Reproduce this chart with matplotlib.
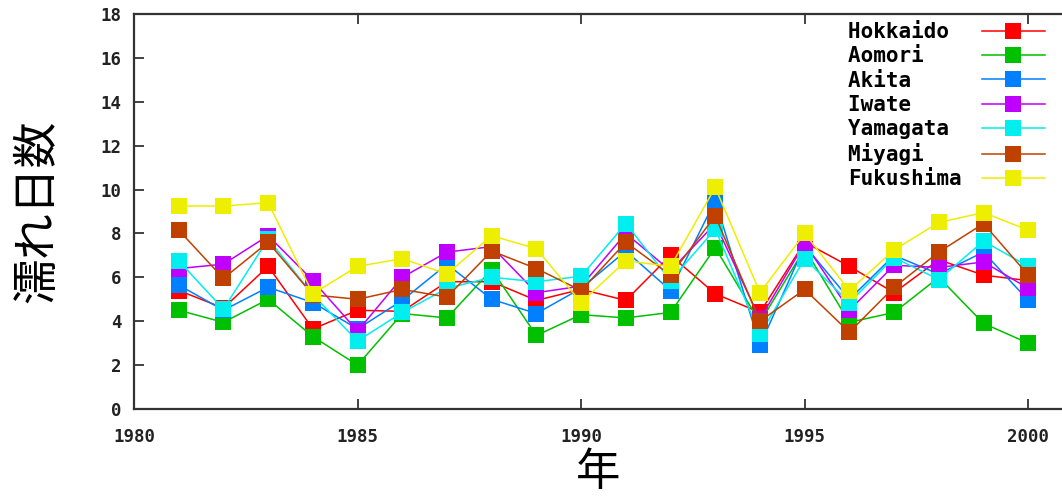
import matplotlib
matplotlib.use('Agg')
import matplotlib.pyplot as plt

years = list(range(1981, 2001))

hokkaido  = [5.4, 4.6, 6.5, 3.65, 4.5, 4.45, 5.8, 5.8, 4.95, 5.45, 4.95, 7.0, 5.25, 4.4, 7.6, 6.5, 5.3, 6.8, 6.1, 5.85]
aomori    = [4.5, 3.95, 5.0, 3.3, 2.0, 4.35, 4.15, 6.35, 3.35, 4.3, 4.15, 4.4, 7.35, 3.95, 7.3, 3.95, 4.4, 6.0, 3.9, 3.0]
akita     = [5.65, 4.5, 5.55, 4.85, 3.65, 4.95, 6.6, 5.0, 4.35, 5.5, 7.2, 5.4, 9.5, 2.9, 7.45, 5.0, 7.0, 6.15, 7.15, 4.95]
iwate     = [6.4, 6.6, 7.9, 5.85, 3.55, 6.0, 7.15, 7.4, 5.3, 5.6, 8.0, 6.3, 8.45, 4.1, 7.55, 4.5, 6.55, 6.45, 6.7, 5.5]
yamagata  = [6.75, 4.55, 7.75, 5.2, 3.1, 4.4, 5.5, 6.0, 5.8, 6.05, 8.45, 5.85, 8.2, 3.4, 6.85, 4.85, 6.9, 5.9, 7.65, 6.5]
miyagi    = [8.15, 5.95, 7.6, 5.2, 5.0, 5.45, 5.1, 7.2, 6.4, 5.4, 7.6, 6.1, 8.8, 4.0, 5.45, 3.5, 5.55, 7.15, 8.45, 6.1]
fukushima = [9.25, 9.25, 9.4, 5.25, 6.5, 6.85, 6.15, 7.9, 7.3, 4.85, 6.75, 6.5, 10.1, 5.3, 8.0, 5.4, 7.25, 8.5, 8.95, 8.15]

series = [hokkaido, aomori, akita, iwate, yamagata, miyagi, fukushima]
names = ['Hokkaido', 'Aomori', 'Akita', 'Iwate', 'Yamagata', 'Miyagi', 'Fukushima']
colors = ['#ff0000', '#00c000', '#0080ff', '#c000ff', '#00eeee', '#c04000', '#eeee00']

x_ticks = [1980, 1985, 1990, 1995, 2000]
y_ticks = list(range(0, 19, 2))

fig = plt.figure(figsize=(10.62, 5.0), dpi=100)
ax = fig.add_axes([0.1262, 0.182, 0.874, 0.79])

# pad names so the monospace legend text lines up on the left
width = max(len(n) for n in names)
for vals, name, col in zip(series, names, colors):
    ax.plot(years, vals, color=col, linewidth=1.1, marker='s', markersize=11.5,
            markeredgewidth=0, label=name.ljust(width))

ax.set_xlim(1980, 2000.76)
ax.set_ylim(0, 18)
ax.set_xticks(x_ticks)
ax.set_yticks(y_ticks)
ax.tick_params(direction='in', length=7, width=1.2, top=True, right=False, colors='#222222')
ax.tick_params(axis='x', pad=14)
ax.tick_params(axis='y', pad=9)
for lbl in ax.get_xticklabels() + ax.get_yticklabels():
    lbl.set_fontfamily('DejaVu Sans Mono')
    lbl.set_fontweight('bold')
    lbl.set_fontsize(12.5)
    lbl.set_color('#222222')
ax.spines['right'].set_visible(False)
for s in ['left', 'top', 'bottom']:
    ax.spines[s].set_linewidth(1.6)
    ax.spines[s].set_color('#333333')

cjk = ['Noto Sans CJK JP', 'DejaVu Sans']
ax.set_xlabel('年', fontsize=32, family=cjk, labelpad=2)
ax.set_ylabel('濡れ日数', fontsize=33, family=cjk, labelpad=28)

leg = ax.legend(loc='upper right', frameon=False, markerfirst=False,
                prop={'family': 'DejaVu Sans Mono', 'weight': 'bold', 'size': 15},
                handlelength=3.0, labelspacing=0.2, borderaxespad=0,
                handletextpad=1.0, bbox_to_anchor=(0.99, 1.0))

plt.savefig('out.png', dpi=100)
